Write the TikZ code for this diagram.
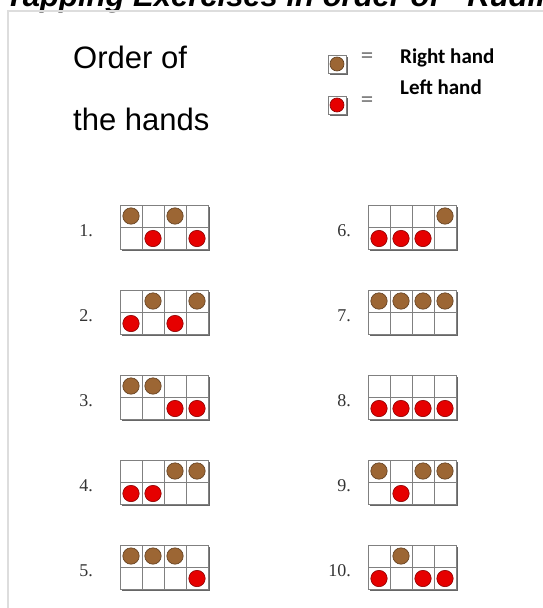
\documentclass[tikz,border=0pt]{standalone}
\usepackage{fontspec}
\setmainfont{Liberation Serif}
\newfontfamily\arialf{Liberation Sans}
\newfontfamily\calf{Carlito}
\definecolor{brownc}{RGB}{156,102,52}
\definecolor{redc}{RGB}{230,0,0}
\definecolor{framec}{RGB}{221,221,221}
\tikzset{
 cellbox/.style={draw=black!50, fill=white, line width=0.8pt},
 cellshadow/.style={fill=black!60},
 rdot/.style={fill=brownc, draw=brownc!60!black, line width=0.6pt},
 ldot/.style={fill=redc, draw=redc!60!black, line width=0.6pt},
 numlabel/.style={anchor=base east, font=\fontsize{18}{18}\selectfont, text=black!80, inner sep=0pt},
 bigtext/.style={anchor=base west, font=\arialf\fontsize{31}{31}\selectfont, inner sep=0pt},
 legtext/.style={anchor=base west, font=\calf\bfseries\fontsize{21}{21}\selectfont, inner sep=0pt},
 eqtext/.style={anchor=center, font=\calf\fontsize{25}{25}\selectfont, text=black!55, inner sep=0pt},
}
\newcommand{\onecell}[3]{%
 \fill[cellshadow] (#1+1.8,#2+1.8) rectangle ++(22,22);
 \draw[cellbox] (#1,#2) rectangle ++(22,22);
 \ifnum#3=1 \draw[rdot] (#1+11,#2+11) circle (8.2);\fi
 \ifnum#3=2 \draw[ldot] (#1+11,#2+11) circle (8.2);\fi
}
\newcommand{\legcell}[3]{%
 \fill[cellshadow] (#1+1.5,#2+1.5) rectangle ++(18,18);
 \draw[cellbox] (#1,#2) rectangle ++(18,18);
 \ifnum#3=1 \draw[rdot] (#1+9,#2+9) circle (7);\fi
 \ifnum#3=2 \draw[ldot] (#1+9,#2+9) circle (7);\fi
}
\newcommand{\tgrid}[4]{%
 \foreach \v [count=\i from 0] in {#3} {\onecell{#1+22*\i}{#2}{\v}}
 \foreach \v [count=\i from 0] in {#4} {\onecell{#1+22*\i}{#2+22.5}{\v}}
}
\begin{document}
\begin{tikzpicture}[x=1pt,y=-1pt]
\useasboundingbox (0,0) rectangle (543,608);
\begin{scope}
\clip (0,0) rectangle (543,608);
\node[anchor=base west, font=\arialf\bfseries\itshape\fontsize{31}{31}\selectfont, inner sep=0pt] (title) at (5,6) {Tapping Exercises in order of\hspace{12pt}“Rudiments”};
\end{scope}
\draw[framec, line width=1.2pt] (8,608) -- (8,11) -- (543,11);
% header
\node[bigtext] (order) at (73,68) {Order of};
\node[bigtext] (hands) at (73,130) {the hands};
% legend
\legcell{328}{55}{1}
\legcell{328}{96}{2}
\node[eqtext] (eq1) at (367,58) {=};
\node[eqtext] (eq2) at (367,102) {=};
\node[legtext] (rh) at (400,63) {Right hand};
\node[legtext] (lh) at (400,94) {Left hand};
% numbers
\foreach \n [count=\k from 0] in {1,...,5} {
 \node[numlabel] (num\n) at (93,236+85*\k) {\n.};
}
\foreach \n [count=\k from 0] in {6,...,10} {
 \node[numlabel] (num\n) at (351,236+85*\k) {\n.};
}
% grids: 1 = right hand (brown, top), 2 = left hand (red, bottom)
\tgrid{120}{205}{1,0,1,0}{0,2,0,2}
\tgrid{120}{290}{0,1,0,1}{2,0,2,0}
\tgrid{120}{375}{1,1,0,0}{0,0,2,2}
\tgrid{120}{460}{0,0,1,1}{2,2,0,0}
\tgrid{120}{545}{1,1,1,0}{0,0,0,2}
\tgrid{368}{205}{0,0,0,1}{2,2,2,0}
\tgrid{368}{290}{1,1,1,1}{0,0,0,0}
\tgrid{368}{375}{0,0,0,0}{2,2,2,2}
\tgrid{368}{460}{1,0,1,1}{0,2,0,0}
\tgrid{368}{545}{0,1,0,0}{2,0,2,2}
\end{tikzpicture}
\end{document}
